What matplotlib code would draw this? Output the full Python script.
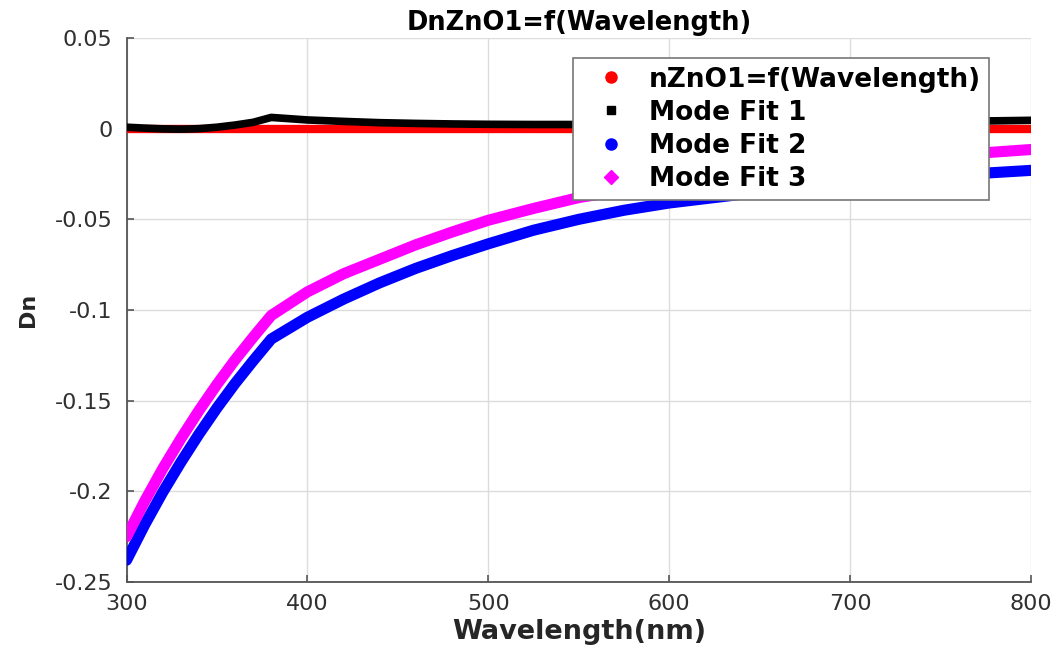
import matplotlib
matplotlib.use("Agg")
import matplotlib.pyplot as plt
from matplotlib.lines import Line2D

plt.rcParams['font.family'] = ['DejaVu Sans']
plt.rcParams['axes.unicode_minus'] = False

# values
wavelength = [300, 310, 320, 330, 340, 350, 360, 370, 380, 400, 420, 440, 460,
              480, 500, 525, 550, 575, 600, 625, 650, 700, 750, 800]
n_zno1 = [0.0] * len(wavelength)
mode_fit1 = [0.0008, 0.0003, -0.0001, -0.0003, 0.0, 0.0008, 0.002, 0.0035, 0.0062,
             0.0048, 0.0040, 0.0033, 0.0029, 0.0026, 0.0024, 0.0023, 0.0023, 0.0024,
             0.0025, 0.0026, 0.0028, 0.0033, 0.0039, 0.0046]
mode_fit2 = [-0.238, -0.2185, -0.2005, -0.184, -0.1685, -0.154, -0.1405, -0.128, -0.116,
             -0.104, -0.094, -0.085, -0.077, -0.070, -0.0635, -0.056, -0.050, -0.045,
             -0.041, -0.038, -0.035, -0.030, -0.026, -0.023]
mode_fit3 = [-0.225, -0.2055, -0.1875, -0.171, -0.1555, -0.141, -0.1275, -0.115, -0.103,
             -0.090, -0.080, -0.072, -0.064, -0.057, -0.0505, -0.044, -0.038, -0.034,
             -0.030, -0.027, -0.024, -0.019, -0.015, -0.0115]

legend_labels = ['nZnO1=f(Wavelength)', 'Mode Fit 1', 'Mode Fit 2', 'Mode Fit 3']
xticks = [300, 400, 500, 600, 700, 800]
yticks = [0.05, 0, -0.05, -0.1, -0.15, -0.2, -0.25]
ytick_labels = ['0.05', '0', '-0.05', '-0.1', '-0.15', '-0.2', '-0.25']

fig = plt.figure(figsize=(10.58, 6.54), dpi=100)
ax = fig.add_axes([0.1196, 0.1101, 0.8549, 0.8318])

ax.plot(wavelength, n_zno1, color='red', lw=6, solid_capstyle='round', zorder=3)
ax.plot(wavelength, mode_fit1, color='black', lw=5.5, solid_capstyle='butt',
        solid_joinstyle='round', zorder=4)
ax.plot(wavelength, mode_fit2, color='blue', lw=8, solid_capstyle='round',
        solid_joinstyle='round', zorder=5)
ax.plot(wavelength, mode_fit3, color='#ff00ff', lw=8, solid_capstyle='round',
        solid_joinstyle='round', zorder=6)

ax.set_xlim(300, 800)
ax.set_ylim(-0.25, 0.05)
ax.set_xticks(xticks)
ax.set_yticks(yticks)
ax.set_yticklabels(ytick_labels)
ax.grid(True, color='#dcdcdc', lw=1)
ax.set_axisbelow(True)

for s in ['top', 'right']:
    ax.spines[s].set_visible(False)
for s in ['left', 'bottom']:
    ax.spines[s].set_color('#555555')
    ax.spines[s].set_linewidth(1.3)
ax.tick_params(direction='in', length=5, width=1.2, color='#555555',
               labelsize=16, labelcolor='#303030')
ax.tick_params(axis='y', pad=10)
ax.tick_params(axis='x', pad=9)

ax.set_title('DnZnO1=f(Wavelength)', fontsize=18.5, fontweight='bold', pad=6)
ax.set_xlabel('Wavelength(nm)', fontsize=19.5, fontweight='bold', color='#262626')
ax.xaxis.set_label_coords(0.5, -0.068)
ax.set_ylabel('Dn', fontsize=16, fontweight='bold', color='#262626')
ax.yaxis.set_label_coords(-0.098, 0.5)

handles = [
    Line2D([], [], ls='none', marker='o', ms=8, color='red'),
    Line2D([], [], ls='none', marker='s', ms=6, color='black'),
    Line2D([], [], ls='none', marker='o', ms=8, color='blue'),
    Line2D([], [], ls='none', marker='D', ms=7, color='#ff00ff'),
]
leg = ax.legend(handles, legend_labels, loc='upper left', bbox_to_anchor=(0.4937, 0.963),
                borderaxespad=0, prop={'weight': 'bold', 'size': 19},
                handlelength=2.2, handletextpad=0.35, borderpad=0.32,
                labelspacing=0.27, fancybox=False, framealpha=1, edgecolor='#777777')
leg.get_frame().set_linewidth(1.2)
leg.set_zorder(10)

fig.savefig('out.png', dpi=100)
